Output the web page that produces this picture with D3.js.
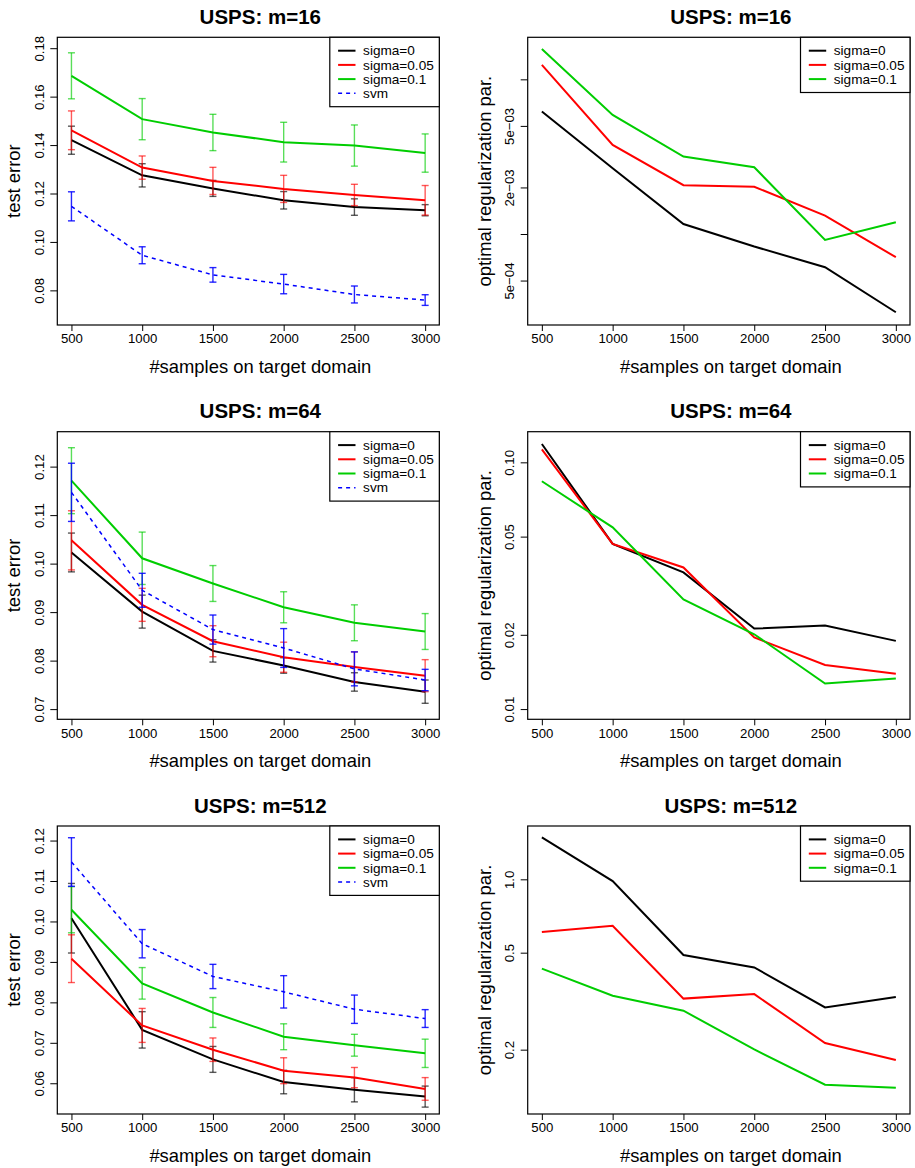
<!DOCTYPE html>
<html>
<head>
<meta charset="utf-8">
<script src="https://cdn.jsdelivr.net/npm/d3@7"></script>
<style>
  body { margin: 0; background: #fff; }
  svg { display: block; font-family: "Liberation Sans", Arial, Helvetica, sans-serif; }
  .box { fill: none; stroke: #000; stroke-width: 1.2; }
  .tick-label { font-size: 13.2px; }
  .axis-title { font-size: 18.4px; }
  .main-title { font-size: 20.5px; font-weight: bold; }
  .legend-text { font-size: 13.6px; }
</style>
</head>
<body>
<svg id="chart" width="915" height="1168"></svg>
<script>
const samples = [500, 1000, 1500, 2000, 2500, 3000];
const seriesNames = ["sigma=0", "sigma=0.05", "sigma=0.1", "svm"];
const seriesColors = ["#000000", "#ff0000", "#00cd00", "#0000ff"];

// test error, mean and spread, m=16
const err16Sigma0 = [0.1420, 0.1275, 0.1221, 0.1172, 0.1144, 0.1131];
const err16Sigma0Sd = [0.0058, 0.0048, 0.0033, 0.0036, 0.0034, 0.0023];
const err16Sigma05 = [0.1461, 0.1307, 0.1252, 0.1219, 0.1194, 0.1172];
const err16Sigma05Sd = [0.0080, 0.0048, 0.0056, 0.0056, 0.0044, 0.0061];
const err16Sigma1 = [0.1686, 0.1507, 0.1452, 0.1412, 0.1398, 0.1367];
const err16Sigma1Sd = [0.0095, 0.0085, 0.0075, 0.0082, 0.0085, 0.0079];

// m=64
const err64Sigma0 = [0.1023, 0.0901, 0.0820, 0.0790, 0.0756, 0.0736];
const err64Sigma0Sd = [0.0040, 0.0034, 0.0023, 0.0016, 0.0019, 0.0024];
const err64Sigma05 = [0.1048, 0.0915, 0.0840, 0.0807, 0.0787, 0.0769];
const err64Sigma05Sd = [0.0061, 0.0034, 0.0032, 0.0031, 0.0031, 0.0033];
const err64Sigma1 = [0.1171, 0.1011, 0.0959, 0.0910, 0.0878, 0.0860];
const err64Sigma1Sd = [0.0068, 0.0054, 0.0037, 0.0032, 0.0037, 0.0037];

// m=512
const err512Sigma0 = [0.1008, 0.0732, 0.0659, 0.0603, 0.0584, 0.0567];
const err512Sigma0Sd = [0.0086, 0.0045, 0.0032, 0.0029, 0.0030, 0.0026];
const err512Sigma05 = [0.0908, 0.0743, 0.0683, 0.0631, 0.0614, 0.0586];
const err512Sigma05Sd = [0.0059, 0.0042, 0.0029, 0.0032, 0.0025, 0.0028];
const err512Sigma1 = [0.1029, 0.0847, 0.0775, 0.0715, 0.0694, 0.0674];
const err512Sigma1Sd = [0.0057, 0.0039, 0.0037, 0.0032, 0.0027, 0.0035];

// svm baseline is the same in every panel
const errSvm = [0.1147, 0.0945, 0.0864, 0.0826, 0.0783, 0.0760];
const errSvmSd = [0.0060, 0.0035, 0.0030, 0.0040, 0.0035, 0.0022];

// optimal regularization parameter
const reg16Sigma0 = [6.19e-3, 2.66e-3, 1.16e-3, 8.3e-4, 6.1e-4, 3.12e-4];
const reg16Sigma05 = [1.24e-2, 3.77e-3, 2.07e-3, 2.02e-3, 1.316e-3, 7.08e-4];
const reg16Sigma1 = [1.57e-2, 5.89e-3, 3.17e-3, 2.70e-3, 9.16e-4, 1.19e-3];

const reg64Sigma0 = [0.1187, 0.0467, 0.0358, 0.0212, 0.0218, 0.0189];
const reg64Sigma05 = [0.1129, 0.0467, 0.0375, 0.0195, 0.0151, 0.0139];
const reg64Sigma1 = [0.0838, 0.0545, 0.0278, 0.0201, 0.0127, 0.0133];

const reg512Sigma0 = [1.487, 0.984, 0.489, 0.435, 0.298, 0.329];
const reg512Sigma05 = [0.608, 0.645, 0.324, 0.338, 0.213, 0.1814];
const reg512Sigma1 = [0.430, 0.333, 0.289, 0.2005, 0.1436, 0.1396];

// axis ticks
const errTicks16 = [0.08, 0.10, 0.12, 0.14, 0.16, 0.18];
const errTicks64 = [0.07, 0.08, 0.09, 0.10, 0.11, 0.12];
const errTicks512 = [0.06, 0.07, 0.08, 0.09, 0.10, 0.11, 0.12];
const regTicks16 = [1e-2, 5e-3, 2e-3, 1e-3, 5e-4];
const regTickLabels16 = ["", "5e\u221203", "2e\u221203", "", "5e\u221204"];
const regTicks64 = [0.01, 0.02, 0.05, 0.10];
const regTickLabels64 = ["0.01", "0.02", "0.05", "0.10"];
const regTicks512 = [0.2, 0.5, 1.0];
const regTickLabels512 = ["0.2", "0.5", "1.0"];

const svg = d3.select("#chart");
svg.append("rect").attr("width", 915).attr("height", 1168).attr("fill", "#fff");

const COLS = [{ left: 57.3, right: 439.3 }, { left: 527.7, right: 910 }];
const ROWS = [{ top: 37.3, bottom: 325 }, { top: 431.7, bottom: 719.3 }, { top: 826, bottom: 1114 }];

function panel(col, row, opts) {
  const box = { ...COLS[col], ...ROWS[row] };
  const g = svg.append("g");
  const x = d3.scaleLinear([400, 3100], [box.left, box.right]);
  const y = (opts.log ? d3.scaleLog() : d3.scaleLinear())
    .domain(opts.domain)
    .range([box.bottom, box.top]);

  // series
  opts.series.forEach((s) => {
    const pts = samples.map((n, k) => ({ n, v: s.values[k], sd: s.sd ? s.sd[k] : 0 }));
    const line = d3.line().x((d) => x(d.n)).y((d) => y(d.v));
    g.append("path")
      .datum(pts)
      .attr("d", line)
      .attr("fill", "none")
      .attr("stroke", s.color)
      .attr("stroke-width", s.dashed ? 1.5 : 2)
      .attr("stroke-dasharray", s.dashed ? "4,4" : null);

    if (s.sd) {
      const bars = g.append("g")
        .attr("stroke", s.color)
        .attr("stroke-width", 1.4)
        .attr("stroke-opacity", s.dashed ? 0.85 : 0.65);
      pts.forEach((d) => {
        const cx = x(d.n), y0 = y(d.v - d.sd), y1 = y(d.v + d.sd);
        bars.append("line").attr("x1", cx).attr("x2", cx).attr("y1", y0).attr("y2", y1);
        bars.append("line").attr("x1", cx - 3.5).attr("x2", cx + 3.5).attr("y1", y0).attr("y2", y0);
        bars.append("line").attr("x1", cx - 3.5).attr("x2", cx + 3.5).attr("y1", y1).attr("y2", y1);
      });
    }
  });

  // box
  g.append("rect")
    .attr("class", "box")
    .attr("x", box.left).attr("y", box.top)
    .attr("width", box.right - box.left).attr("height", box.bottom - box.top);

  // x axis
  const xAxis = d3.axisBottom(x).tickValues(samples).tickFormat(d3.format("d"))
    .tickSizeInner(6).tickSizeOuter(0).tickPadding(3);
  const gx = g.append("g").attr("transform", `translate(0,${box.bottom})`).call(xAxis);
  gx.select(".domain").remove();
  gx.selectAll("line").attr("stroke", "#000");
  gx.selectAll("text").attr("class", "tick-label").attr("font-family", null).attr("font-size", null).attr("fill", "#000");

  // y axis, labels rotated parallel to the axis as in base R
  const yAxis = d3.axisLeft(y).tickValues(opts.ticks).tickSizeInner(7).tickSizeOuter(0)
    .tickFormat((d, i) => opts.tickLabels[i]);
  const gy = g.append("g").attr("transform", `translate(${box.left},0)`).call(yAxis);
  gy.select(".domain").remove();
  gy.selectAll("line").attr("stroke", "#000");
  gy.selectAll("text")
    .attr("class", "tick-label")
    .attr("font-family", null).attr("font-size", null)
    .attr("fill", "#000")
    .attr("x", null).attr("dy", null)
    .attr("text-anchor", "middle")
    .attr("transform", "translate(-13.5,0) rotate(-90)");

  // titles
  const cx = (box.left + box.right) / 2 + 12;
  g.append("text").attr("class", "main-title")
    .attr("x", cx).attr("y", box.top - 13.4)
    .attr("text-anchor", "middle").text(opts.title);
  g.append("text").attr("class", "axis-title")
    .attr("x", cx).attr("y", box.bottom + 48)
    .attr("text-anchor", "middle").text("#samples on target domain");
  g.append("text").attr("class", "axis-title")
    .attr("transform", `translate(${box.left - 37},${(box.top + box.bottom) / 2}) rotate(-90)`)
    .attr("text-anchor", "middle").text(opts.ylab);

  // legend
  const n = opts.series.length;
  const lw = 109.5, rowH = 14.2;
  const lx = box.right - lw;
  const lh = 13.4 * 2 + rowH * (n - 1);
  const lg = g.append("g");
  lg.append("rect").attr("x", lx).attr("y", box.top).attr("width", lw).attr("height", lh)
    .attr("fill", "#fff").attr("stroke", "#000").attr("stroke-width", 1.2);
  opts.series.forEach((s, i) => {
    const ry = box.top + 13.4 + i * rowH;
    lg.append("line")
      .attr("x1", lx + 8.3).attr("x2", lx + 25.7).attr("y1", ry).attr("y2", ry)
      .attr("stroke", s.color)
      .attr("stroke-width", s.dashed ? 1.5 : 2)
      .attr("stroke-dasharray", s.dashed ? "4,4" : null);
    lg.append("text").attr("class", "legend-text")
      .attr("x", lx + 33.3).attr("y", ry).attr("dy", "0.35em").text(s.name);
  });
}

function errSeries(vals, sds) {
  return vals.map((v, i) => ({
    name: seriesNames[i], color: seriesColors[i], values: v, sd: sds[i], dashed: i === 3,
  }));
}
function regSeries(vals) {
  return vals.map((v, i) => ({ name: seriesNames[i], color: seriesColors[i], values: v }));
}
const fmt2 = d3.format(".2f");

panel(0, 0, {
  title: "USPS: m=16", ylab: "test error", domain: [0.0657, 0.1845],
  ticks: errTicks16, tickLabels: errTicks16.map(fmt2),
  series: errSeries([err16Sigma0, err16Sigma05, err16Sigma1, errSvm],
    [err16Sigma0Sd, err16Sigma05Sd, err16Sigma1Sd, errSvmSd]),
});
panel(1, 0, {
  title: "USPS: m=16", ylab: "optimal regularization par.", log: true, domain: [2.58e-4, 1.87e-2],
  ticks: regTicks16, tickLabels: regTickLabels16,
  series: regSeries([reg16Sigma0, reg16Sigma05, reg16Sigma1]),
});
panel(0, 1, {
  title: "USPS: m=64", ylab: "test error", domain: [0.0679, 0.1272],
  ticks: errTicks64, tickLabels: errTicks64.map(fmt2),
  series: errSeries([err64Sigma0, err64Sigma05, err64Sigma1, errSvm],
    [err64Sigma0Sd, err64Sigma05Sd, err64Sigma1Sd, errSvmSd]),
});
panel(1, 1, {
  title: "USPS: m=64", ylab: "optimal regularization par.", log: true, domain: [0.00909, 0.1331],
  ticks: regTicks64, tickLabels: regTickLabels64,
  series: regSeries([reg64Sigma0, reg64Sigma05, reg64Sigma1]),
});
panel(0, 2, {
  title: "USPS: m=512", ylab: "test error", domain: [0.0524, 0.1236],
  ticks: errTicks512, tickLabels: errTicks512.map(fmt2),
  series: errSeries([err512Sigma0, err512Sigma05, err512Sigma1, errSvm],
    [err512Sigma0Sd, err512Sigma05Sd, err512Sigma1Sd, errSvmSd]),
});
panel(1, 2, {
  title: "USPS: m=512", ylab: "optimal regularization par.", log: true, domain: [0.1089, 1.655],
  ticks: regTicks512, tickLabels: regTickLabels512,
  series: regSeries([reg512Sigma0, reg512Sigma05, reg512Sigma1]),
});
</script>
</body>
</html>
